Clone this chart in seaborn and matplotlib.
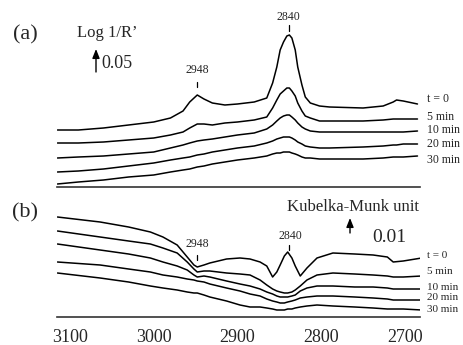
import numpy as np
import pandas as pd
import matplotlib
matplotlib.use("Agg")
import matplotlib.pyplot as plt
import seaborn as sns

# ---------------- data (relative intensity, a.u.) ----------------
wn_a = [3115, 3090, 3060, 3030, 3000, 2980, 2965, 2957, 2948, 2940, 2930, 2915,
        2900, 2880, 2865, 2858, 2853, 2849, 2845, 2841, 2838, 2835, 2831, 2828,
        2823, 2819, 2813, 2802, 2790, 2750, 2726, 2714, 2710, 2702, 2685]
a_t0 = [57, 57, 59, 62, 65, 69, 76, 85, 92, 88, 84, 82, 83, 85, 89, 104, 120, 137,
        145, 151, 152, 149, 137, 120, 102, 90, 84, 81, 80, 79, 81, 85, 87, 86, 83]
a_t5 = [44, 44, 45, 47, 49, 52, 55, 59, 63, 63, 62, 64, 65, 67, 70, 79, 87, 93,
        96, 99, 99, 96, 91, 84, 76, 71, 69, 66, 66, 66, 67, 68, 68, 68, 68]
a_t10 = [29, 30, 31, 33, 35, 39, 42, 44, 46, 47, 48, 50, 52, 54, 58, 62, 66, 69,
         71, 72, 72, 70, 67, 64, 60, 58, 56, 55, 55, 55, 55, 55, 55, 55, 56]
a_t20 = [15, 16, 18, 21, 24, 27, 29, 30, 32, 33, 35, 37, 39, 41, 44, 46, 48, 49,
         50, 50, 50, 49, 47, 45, 43, 41, 40, 39, 39, 40, 41, 42, 42, 43, 43]
a_t30 = [3, 5, 7, 10, 12, 15, 17, 18, 20, 21, 23, 25, 27, 29, 31, 33, 34, 34,
         35, 35, 35, 34, 33, 32, 30, 29, 29, 28, 28, 28, 29, 30, 30, 30, 31]

wn_b = [3115, 3064, 3030, 3004, 2989, 2972, 2960, 2952, 2948, 2940, 2933, 2913,
        2897, 2885, 2873, 2865, 2858, 2853, 2849, 2844, 2840, 2835, 2831, 2825,
        2817, 2805, 2786, 2760, 2738, 2721, 2714, 2702, 2680]
b_t0 = [100, 95, 90, 85, 80, 72, 60, 52, 50, 52, 54, 58, 59, 58, 55, 51, 40, 45,
        52, 61, 65, 59, 51, 41, 49, 59, 64, 63, 62, 60, 55, 56, 59]
b_t5 = [86, 80, 76, 73, 69, 64, 55, 48, 45, 46, 46, 44, 43, 42, 37, 32, 28, 26,
        25, 24, 24, 25, 27, 31, 37, 42, 44, 43, 42, 41, 40, 40, 41]
b_t10 = [73, 67, 63, 59, 55, 51, 47, 42, 40, 41, 40, 36, 33, 31, 28, 25, 23, 21,
         20, 20, 20, 21, 22, 26, 29, 31, 31, 30, 30, 29, 28, 28, 28]
b_t20 = [55, 52, 48, 45, 42, 40, 38, 37, 36, 35, 33, 29, 26, 23, 21, 18, 16, 15,
         14, 14, 15, 16, 17, 19, 20, 21, 21, 20, 19, 18, 17, 17, 17]
b_t30 = [44, 39, 35, 31, 29, 27, 25, 24, 24, 22, 20, 16, 12, 10, 10, 9, 8, 7,
         7, 7, 8, 8, 9, 10, 11, 12, 11, 10, 9, 8, 8, 8, 7]

series_labels = ["t = 0", "5 min", "10 min", "20 min", "30 min"]
tick_values = [3100, 3000, 2900, 2800, 2700]
tick_labels = ["3100", "3000", "2900", "2800", "2700"]

# ---------------- style ----------------
sns.set_style("white")
plt.rcParams['font.family'] = ['Liberation Serif', 'DejaVu Serif']

W, H = 463, 345
fig = plt.figure(figsize=(W / 100, H / 100), dpi=100)


def fx(px):
    return px / W


def fy(py):
    return 1 - py / H


X0, X1 = 3115.5, 2682.0
ax_a = fig.add_axes([fx(57), fy(187), fx(420) - fx(57), 187 / H])
ax_b = fig.add_axes([fx(57), fy(317), fx(420) - fx(57), 122 / H])
ax_a.set_ylim(0, 187)
ax_b.set_ylim(0, 122)

for wn, ys, ax in [(wn_a, [a_t0, a_t5, a_t10, a_t20, a_t30], ax_a),
                   (wn_b, [b_t0, b_t5, b_t10, b_t20, b_t30], ax_b)]:
    for lab, y in zip(series_labels, ys):
        df = pd.DataFrame({"wn": wn, "v": y})
        sns.lineplot(data=df, x="wn", y="v", ax=ax, color="black", lw=1.1,
                     sort=False, legend=False)
    ax.set_xlim(X0, X1)
    ax.set_xlabel("")
    ax.set_ylabel("")
    ax.set_yticks([])
    ax.patch.set_alpha(0)
    for s in ["top", "left", "right"]:
        ax.spines[s].set_visible(False)
    ax.spines["bottom"].set_color("#333333")
    ax.spines["bottom"].set_linewidth(1.2)

# panel a ticks: small, upwards, every 50, no labels
ax_a.set_xticks(np.arange(2700, 3101, 50))
ax_a.tick_params(axis="x", direction="in", length=3, width=0.8, labelbottom=False,
                 color="#333333")

# panel b ticks
ax_b.set_xticks(tick_values)
ax_b.set_xticklabels(tick_labels)
ax_b.set_xticks(np.arange(2750, 3101, 100), minor=True)
ax_b.tick_params(axis="x", which="major", direction="inout", length=7, width=0.9,
                 labelsize=13, pad=5, color="#333333")
ax_b.tick_params(axis="x", which="minor", direction="out", length=2, width=0.9,
                 color="#333333")

# ---------------- annotations ----------------
def ftext(x, y, s, size, ha="center", va="center"):
    fig.text(fx(x), fy(y), s, fontsize=size, ha=ha, va=va)


def fline(x, y0, y1):
    fig.add_artist(plt.Line2D([fx(x), fx(x)], [fy(y0), fy(y1)], color="black", lw=0.9))


def farrow(x, y0, y1):
    fig.add_artist(matplotlib.patches.FancyArrowPatch(
        (fx(x), fy(y0)), (fx(x), fy(y1)), transform=fig.transFigure,
        arrowstyle="-|>,head_length=0.45,head_width=0.18", color="black", lw=1.0,
        shrinkA=0, shrinkB=0, mutation_scale=12))

ftext(25, 35, "(a)", 16)
ftext(107, 33, "Log 1/R’", 12)
farrow(96, 72, 49)
ftext(101, 64, "0.05", 13, ha="left")
ftext(197, 70, "2948", 8.5)
fline(197, 82, 87)
ftext(288, 17, "2840", 8.5)
fline(289, 25, 31)

ftext(25, 213, "(b)", 16)
ftext(353, 207, "Kubelka-Munk unit", 12)
farrow(350, 233, 218)
ftext(372, 237, "0.01", 14, ha="left")
ftext(197, 244, "2948", 8.5)
fline(197, 255, 260)
ftext(290, 236, "2840", 8.5)
fline(289, 245, 250)

for lab, yy in zip(series_labels, [99, 117, 130, 144, 160]):
    ftext(427, yy, lab, 8.5, ha="left")
for lab, yy in zip(series_labels, [256, 272, 287, 298, 309]):
    ftext(427, yy, lab, 8, ha="left")

fig.savefig("out.png", dpi=100)
